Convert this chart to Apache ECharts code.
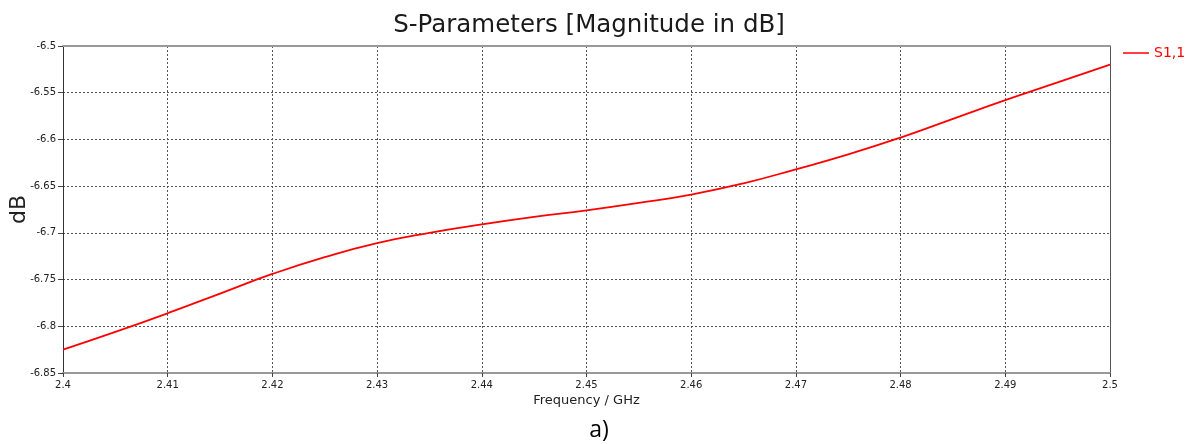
<!DOCTYPE html>
<html>
<head>
<meta charset="utf-8">
<script src="https://cdn.jsdelivr.net/npm/echarts@6/dist/echarts.min.js"></script>
<style>
  html, body { margin: 0; padding: 0; background: #fff; }
  #chart { width: 1192px; height: 444px; }
</style>
</head>
<body>
<div id="chart"></div>
<script>
// Frequency sweep (GHz) and reflection coefficient S1,1 magnitude (dB)
const frequency = [2.400, 2.405, 2.410, 2.415, 2.420, 2.425, 2.430, 2.435, 2.440, 2.445, 2.450,
                   2.455, 2.460, 2.465, 2.470, 2.475, 2.480, 2.485, 2.490, 2.495, 2.500];
const s11 = [-6.825, -6.806, -6.786, -6.765, -6.744, -6.726, -6.711, -6.700, -6.691, -6.683, -6.676,
             -6.668, -6.659, -6.647, -6.632, -6.616, -6.598, -6.578, -6.558, -6.539, -6.520];
const seriesName = 'S1,1';
const titleText = 'S-Parameters [Magnitude in dB]';
const xName = 'Frequency / GHz';
const yName = 'dB';
const panelLabel = 'a)';

const chart = echarts.init(document.getElementById('chart'), null, { renderer: 'canvas' });
const fmt = v => String(+v.toFixed(2));
const gridLine = { show: true, lineStyle: { color: '#555', width: 1, type: [2, 2] } };

chart.setOption({
  animation: false,
  backgroundColor: '#fff',
  title: [{
    text: titleText,
    left: 584, top: 8, textAlign: 'center',
    textStyle: { fontFamily: 'DejaVu Sans', fontSize: 24.5, fontWeight: 'normal', color: '#1a1a1a' }
  }, {
    text: panelLabel,
    left: 594, top: 414, textAlign: 'center',
    textStyle: { fontFamily: 'Open Sans', fontSize: 23, fontWeight: 'normal', color: '#000' }
  }],
  legend: {
    data: [seriesName],
    left: 1123, top: 46, padding: 0,
    icon: 'rect', itemWidth: 26, itemHeight: 1.5, itemGap: 6,
    textStyle: { color: '#ff0000', fontFamily: 'DejaVu Sans', fontSize: 14, padding: [0, 0, 0, 0] }
  },
  grid: { left: 63, right: 82, top: 46, bottom: 71, containLabel: false, outerBoundsMode: 'none' },
  xAxis: [{
    type: 'value', min: 2.4, max: 2.5, interval: 0.01, position: 'bottom',
    name: xName, nameLocation: 'middle', nameGap: 21, nameMoveOverlap: false,
    nameTextStyle: { fontFamily: 'DejaVu Sans', fontSize: 13, color: '#222' },
    axisLine: { show: true, onZero: false, lineStyle: { color: '#999', width: 2 } },
    axisTick: { show: true, length: 4, lineStyle: { color: '#444' } },
    axisLabel: { formatter: fmt, margin: 7, fontFamily: 'DejaVu Sans', fontSize: 10, color: '#222' },
    splitLine: gridLine
  }, {
    type: 'value', min: 2.4, max: 2.5, interval: 0.01, position: 'top',
    axisLine: { show: true, onZero: false, lineStyle: { color: '#999', width: 2 } },
    axisTick: { show: false }, axisLabel: { show: false }, splitLine: { show: false }
  }],
  yAxis: [{
    type: 'value', min: -6.85, max: -6.5, interval: 0.05, position: 'left',
    name: yName, nameLocation: 'middle', nameGap: 33, nameRotate: 90, nameMoveOverlap: false,
    nameTextStyle: { fontFamily: 'DejaVu Sans', fontSize: 22, color: '#222' },
    axisLine: { show: true, onZero: false, lineStyle: { color: '#333', width: 1 } },
    axisTick: { show: true, length: 5, lineStyle: { color: '#444' } },
    axisLabel: { formatter: fmt, margin: 7, fontFamily: 'DejaVu Sans', fontSize: 10, color: '#222' },
    splitLine: gridLine
  }, {
    type: 'value', min: -6.85, max: -6.5, interval: 0.05, position: 'right',
    axisLine: { show: true, onZero: false, lineStyle: { color: '#555', width: 1 } },
    axisTick: { show: false }, axisLabel: { show: false }, splitLine: { show: false }
  }],
  series: [{
    name: seriesName,
    type: 'line',
    xAxisIndex: 0, yAxisIndex: 0,
    data: frequency.map((f, i) => [f, s11[i]]),
    smooth: 0.5,
    showSymbol: false,
    lineStyle: { color: '#ff0000', width: 1.8 },
    itemStyle: { color: '#ff0000' }
  }]
});
</script>
</body>
</html>
